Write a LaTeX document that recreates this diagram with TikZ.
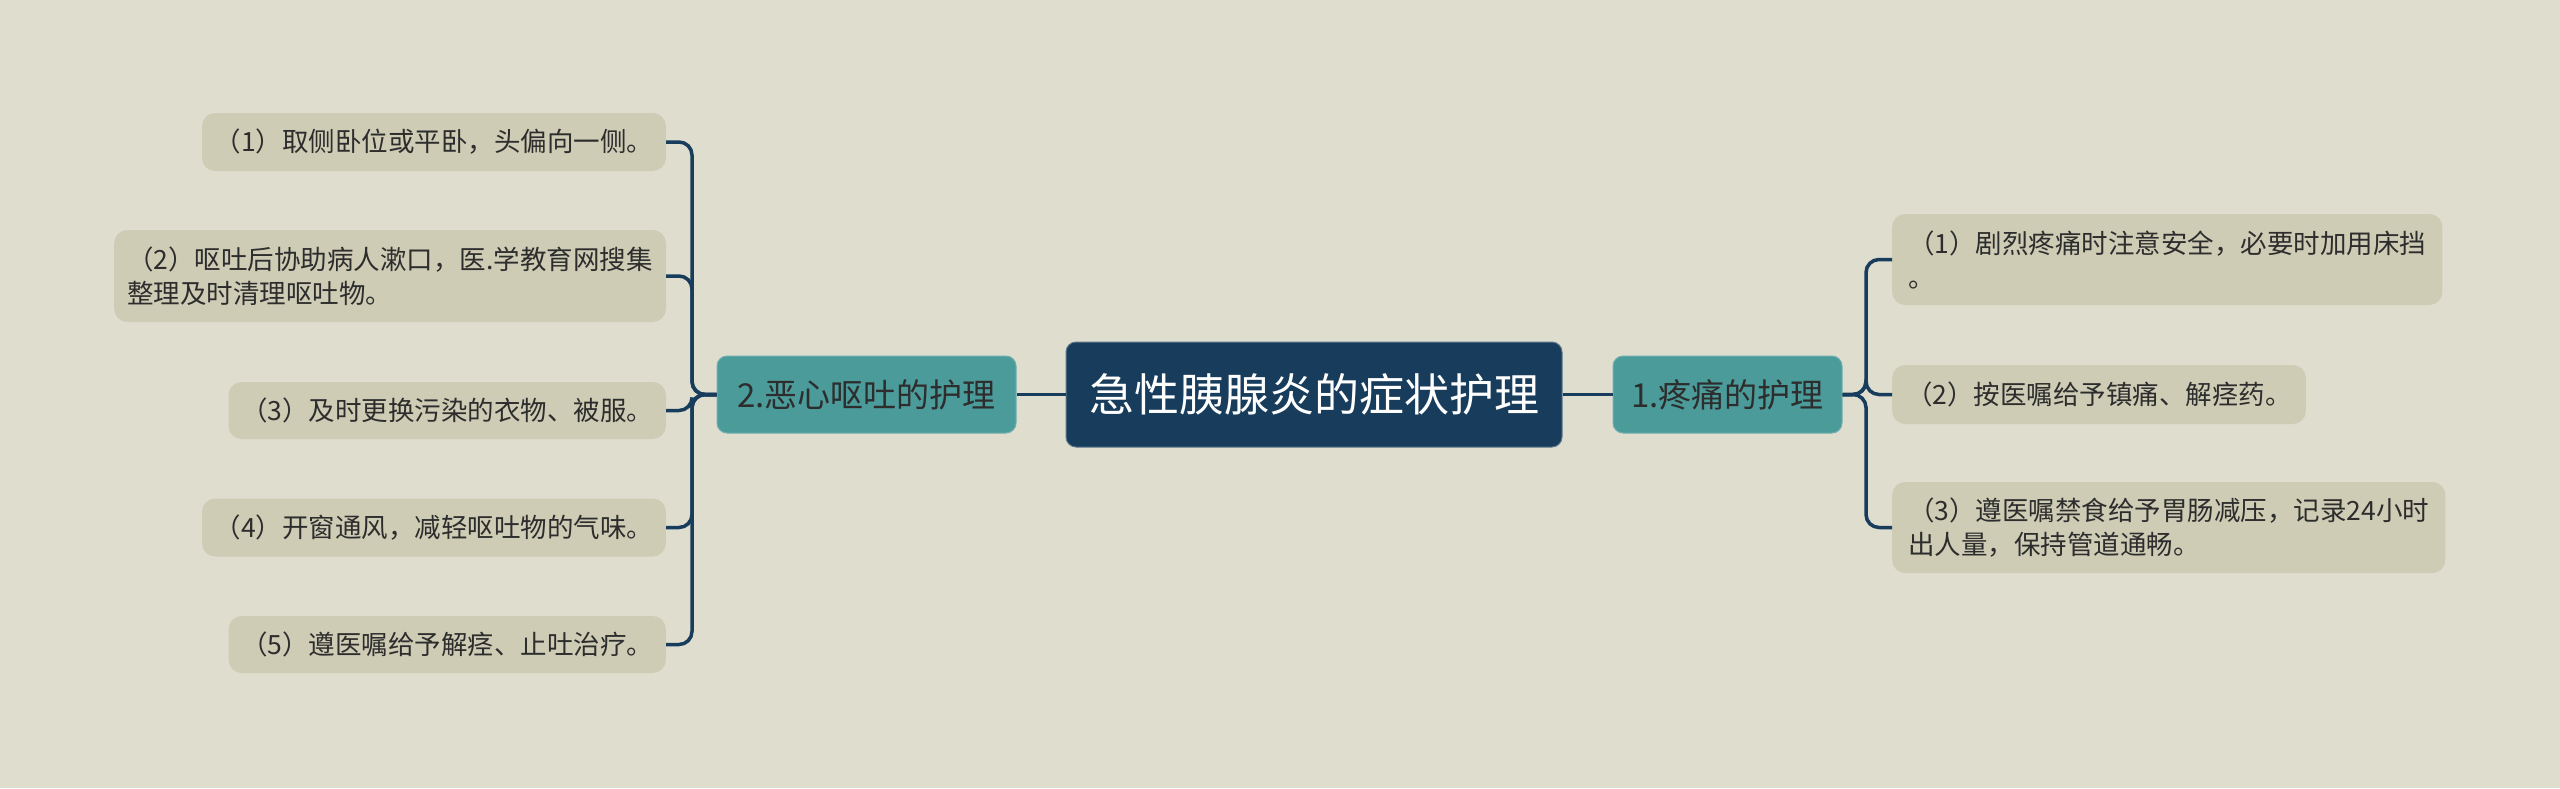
\documentclass[tikz,border=0pt]{standalone}
\usepackage{fontspec}
\setmainfont{Noto Sans CJK SC}
\definecolor{bg}{RGB}{223,221,206}
\definecolor{navy}{RGB}{24,61,92}
\definecolor{teal}{RGB}{76,155,155}
\definecolor{leaf}{RGB}{206,204,181}
\definecolor{ink}{RGB}{45,45,45}
\tikzset{
  rootbox/.style={fill=navy, draw=navy!70!white, line width=1pt, rounded corners=10pt, text=white, minimum width=496pt, minimum height=105pt, inner sep=0pt, font=\fontsize{45}{50}\selectfont},
  subbox/.style={fill=teal, draw=teal!80!white, line width=1pt, rounded corners=10pt, text=ink, minimum height=77pt, inner sep=0pt, font=\fontsize{33}{38}\selectfont},
  leafbox/.style={fill=leaf, rounded corners=13pt, text=ink, inner xsep=14pt, inner ysep=12pt, align=left, font=\fontsize{26.5}{34}\selectfont},
  conn/.style={draw=navy, line width=3.5pt, rounded corners=13pt},
}
\begin{document}
\begin{tikzpicture}[x=1pt,y=-1pt]
\useasboundingbox (0,0) rectangle (2560,788);
\fill[bg] (0,0) rectangle (2560,788);

\node[rootbox] (C) at (1314,394.5) {急性胰腺炎的症状护理};
\node[subbox, minimum width=229pt] (R) at (1727.5,394.5) {1.疼痛的护理};
\node[subbox, minimum width=299pt] (L) at (866.5,394.5) {2.恶心呕吐的护理};

\coordinate (rj) at (1866,394.5);
\coordinate (lj) at (692,394.5);

% right leaves
\node[leafbox, anchor=west, minimum height=91pt, inner xsep=16pt] (r1) at (1892,259.5) {（1）剧烈疼痛时注意安全，必要时加用床挡\\。};
\node[leafbox, anchor=west, minimum height=59pt] (r2) at (1892,394.5) {（2）按医嘱给予镇痛、解痉药。};
\node[leafbox, anchor=west, minimum height=91pt, inner xsep=16pt] (r3) at (1892,527.5) {（3）遵医嘱禁食给予胃肠减压，记录24小时\\出人量，保持管道通畅。};

% left leaves
\node[leafbox, anchor=east, minimum height=58pt, inner xsep=12.5pt] (l1) at (666,142) {（1）取侧卧位或平卧，头偏向一侧。};
\node[leafbox, anchor=east, minimum height=92pt, inner xsep=13pt] (l2) at (666,276) {（2）呕吐后协助病人漱口，医.学教育网搜集\\整理及时清理呕吐物。};
\node[leafbox, anchor=east, minimum height=57pt, inner xsep=12.5pt] (l3) at (666,410.5) {（3）及时更换污染的衣物、被服。};
\node[leafbox, anchor=east, minimum height=58pt, inner xsep=12.5pt] (l4) at (666,527.5) {（4）开窗通风，减轻呕吐物的气味。};
\node[leafbox, anchor=east, minimum height=57pt, inner xsep=12.5pt] (l5) at (666,644.5) {（5）遵医嘱给予解痉、止吐治疗。};

% connectors
\draw[conn] (C.east) -- (R.west);
\draw[conn] (C.west) -- (L.east);
\foreach \n in {r1,r2,r3} \draw[conn] (R.east) -- (rj) |- (\n.west);
\foreach \n in {l1,l2,l3,l4,l5} \draw[conn] (L.west) -- (lj) |- (\n.east);
\end{tikzpicture}
\end{document}
